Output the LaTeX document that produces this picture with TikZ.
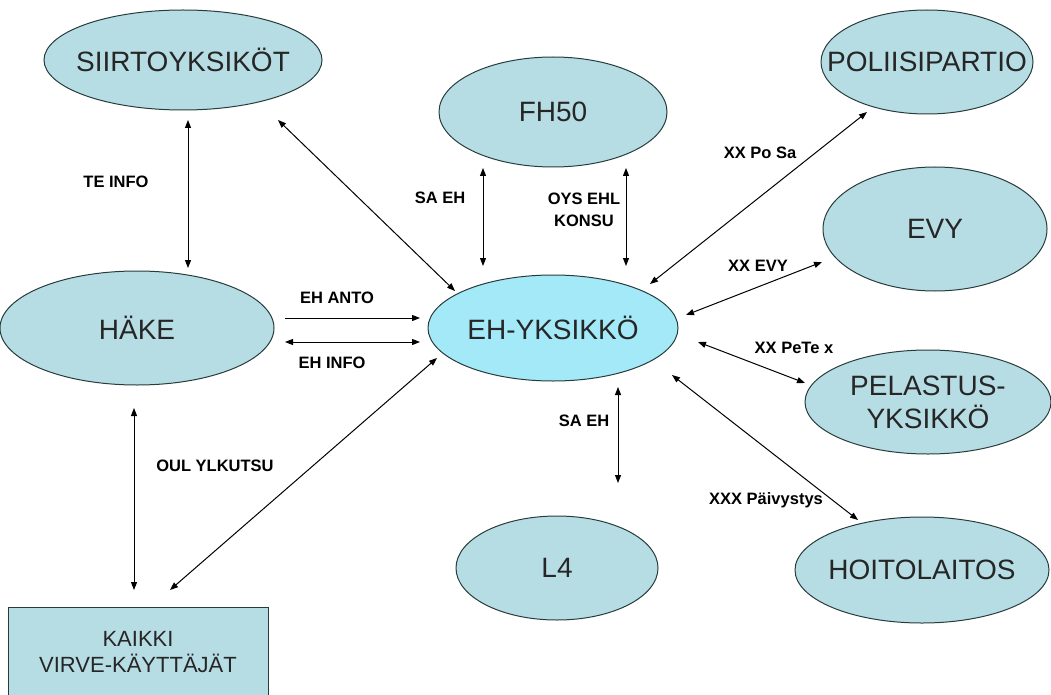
\documentclass[tikz,border=0pt]{standalone}
\usepackage{fontspec}
\setmainfont{Liberation Sans}
\usetikzlibrary{shapes.geometric,arrows.meta}
\definecolor{ellfill}{RGB}{183,221,228}
\definecolor{ehfill}{RGB}{164,233,247}
\definecolor{ellline}{RGB}{40,60,60}
\tikzset{
  unit/.style={ellipse,draw=ellline,line width=1pt,fill=ellfill,inner sep=0pt,
    label={[font=\fontsize{28}{33}\selectfont,text=black!85,align=center,inner sep=0pt]center:#1}},
  boxunit/.style={rectangle,draw=ellline,line width=1pt,fill=ellfill,inner sep=0pt,font=\fontsize{22}{26}\selectfont,text=black!85,align=center},
  lbl/.style={font=\bfseries\fontsize{16.5}{22}\selectfont,align=center,inner sep=0pt},
  link/.style={line width=1pt,{Triangle[length=8pt,width=6pt]}-{Triangle[length=8pt,width=6pt]}},
  onelink/.style={line width=1pt,-{Triangle[length=8pt,width=6pt]}}
}
\begin{document}
\begin{tikzpicture}[x=1pt,y=-1pt]
\useasboundingbox (0,0) rectangle (1051,695);
% nodes
\node[unit={SIIRTOYKSIKÖT},minimum width=278pt,minimum height=100pt] (siirto) at (183,60) {};
\node[unit={FH50},minimum width=228pt,minimum height=110pt] (fh) at (553,112) {};
\node[unit={POLIISIPARTIO},minimum width=212pt,minimum height=104pt] (poli) at (927,62) {};
\node[unit={EVY},minimum width=224pt,minimum height=124pt] (evy) at (935,229) {};
\node[unit={EH-YKSIKKÖ},fill=ehfill,minimum width=250pt,minimum height=106pt] (eh) at (553,328) {};
\node[unit={HÄKE},minimum width=274pt,minimum height=114pt] (hake) at (137,328) {};
\node[unit={PELASTUS-\\YKSIKKÖ},minimum width=246pt,minimum height=104pt] (pel) at (928,402) {};
\node[unit={HOITOLAITOS},minimum width=254pt,minimum height=106pt] (hoito) at (922,570) {};
\node[unit={L4},minimum width=202pt,minimum height=104pt] (l4) at (557,568) {};
\node[boxunit,minimum width=260pt,minimum height=110pt,anchor=north west] (kaikki) at (8,607) {};
\node[boxunit,fill=none,draw=none] (kaikkitxt) at (138,652) {KAIKKI\\VIRVE-KÄYTTÄJÄT};
% arrow end coordinates
\coordinate (a1s) at (188,120); \coordinate (a1e) at (188,268);
\coordinate (a2s) at (278,120); \coordinate (a2e) at (455,291);
\coordinate (a3s) at (483,168); \coordinate (a3e) at (483,266);
\coordinate (a4s) at (626,168); \coordinate (a4e) at (626,266);
\coordinate (a5s) at (867,112); \coordinate (a5e) at (650,284);
\coordinate (a6s) at (822,262); \coordinate (a6e) at (686,315);
\coordinate (a7s) at (698,342); \coordinate (a7e) at (805,383);
\coordinate (a8s) at (672,375); \coordinate (a8e) at (858,520);
\coordinate (a9s) at (618,387); \coordinate (a9e) at (618,483);
\coordinate (a10s) at (285,318); \coordinate (a10e) at (420,318);
\coordinate (a11s) at (285,342); \coordinate (a11e) at (420,342);
\coordinate (a12s) at (134,408); \coordinate (a12e) at (134,590);
\coordinate (a13s) at (170,590); \coordinate (a13e) at (437,358);
% connectors
\draw[link] (a1s) -- (a1e);
\draw[link] (a2s) -- (a2e);
\draw[link] (a3s) -- (a3e);
\draw[link] (a4s) -- (a4e);
\draw[link] (a5s) -- (a5e);
\draw[link] (a6s) -- (a6e);
\draw[link] (a7s) -- (a7e);
\draw[link] (a8s) -- (a8e);
\draw[link] (a9s) -- (a9e);
\draw[onelink] (a10s) -- (a10e);
\draw[link] (a11s) -- (a11e);
\draw[link] (a12s) -- (a12e);
\draw[link] (a13s) -- (a13e);
% labels
\node[lbl] (l1) at (116,182) {TE INFO};
\node[lbl] (l2) at (440,198) {SA EH};
\node[lbl] (l3) at (584,210) {OYS EHL\\KONSU};
\node[lbl] (l5) at (760,153) {XX Po Sa};
\node[lbl] (l6) at (758,266) {XX EVY};
\node[lbl] (l7) at (337,298) {EH ANTO};
\node[lbl] (l8) at (332,363) {EH INFO};
\node[lbl] (l9) at (794,348) {XX PeTe x};
\node[lbl] (l10) at (766,500) {XXX Päivystys};
\node[lbl] (l11) at (584,421) {SA EH};
\node[lbl] (l12) at (215,466) {OUL YLKUTSU};
\end{tikzpicture}
\end{document}
